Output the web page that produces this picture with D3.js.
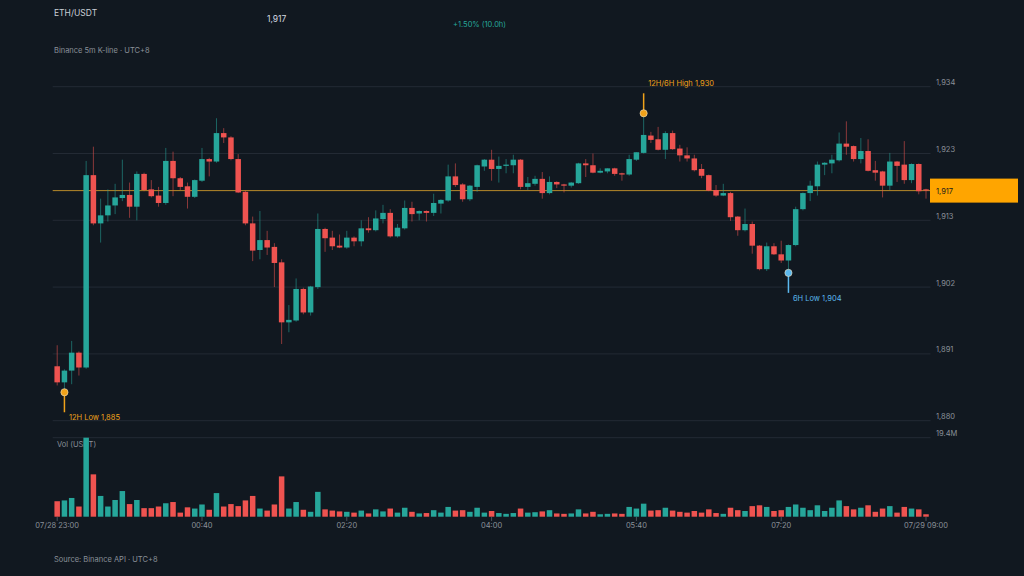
<!DOCTYPE html>
<html>
<head>
<meta charset="utf-8">
<script src="https://cdn.jsdelivr.net/npm/d3@7"></script>
<style>
  html, body { margin: 0; padding: 0; background: #111820; }
  svg { display: block; font-family: Inter, "Noto Sans", sans-serif; }
</style>
</head>
<body>
<svg id="chart" width="1024" height="576"></svg>
<script>
// 5m candles, 07/28 23:00 -> 07/29 09:00 (121 bars)
var opens = [1888.8,1886.2,1888.1,1891.0,1888.6,1919.7,1911.9,1913.2,1914.8,1916.0,
  1916.5,1914.6,1919.9,1917.4,1916.4,1915.2,1922.0,1919.2,1917.9,1916.2,
  1918.8,1922.3,1921.9,1926.5,1925.8,1922.3,1917.0,1911.9,1907.6,1909.2,
  1908.1,1905.6,1895.9,1896.2,1901.3,1897.5,1901.6,1911.0,1909.6,1908.3,
  1908.0,1909.6,1909.0,1911.1,1910.8,1912.6,1913.6,1909.8,1911.1,1914.4,
  1913.5,1913.9,1913.6,1915.1,1915.6,1919.5,1918.2,1915.8,1917.8,1921.1,
  1922.2,1920.7,1921.2,1921.3,1922.2,1917.8,1918.3,1919.1,1916.8,1918.6,
  1918.2,1918.0,1918.4,1921.6,1921.3,1920.1,1920.3,1920.8,1920.0,1919.8,
  1922.2,1923.3,1926.1,1925.5,1923.8,1926.5,1924.0,1922.9,1922.4,1920.7,
  1919.7,1917.3,1916.4,1916.8,1913.0,1910.8,1911.8,1908.3,1904.5,1908.2,
  1906.9,1905.9,1908.4,1914.2,1916.8,1917.9,1921.4,1921.6,1922.1,1924.8,
  1924.4,1922.3,1923.6,1920.5,1920.3,1918.0,1921.9,1921.4,1918.9,1921.5,
  1917.4];
var highs = [1892.2,1888.3,1892.9,1891.2,1922.0,1924.3,1915.9,1917.4,1918.3,1922.2,
  1918.5,1920.3,1920.1,1918.9,1917.8,1924.1,1923.5,1919.4,1918.5,1919.0,
  1924.1,1922.5,1928.9,1927.3,1926.0,1923.1,1917.2,1913.0,1913.9,1910.7,
  1908.7,1906.1,1898.7,1903.0,1901.5,1901.8,1913.5,1911.2,1910.7,1910.1,
  1910.7,1909.8,1912.4,1912.9,1914.0,1914.9,1914.2,1911.8,1915.6,1915.4,
  1914.0,1914.0,1916.7,1915.8,1921.4,1921.6,1918.4,1918.1,1921.4,1922.3,
  1923.8,1922.7,1922.3,1923.0,1922.3,1919.4,1919.6,1920.2,1919.5,1918.7,
  1918.3,1918.6,1921.7,1922.3,1923.2,1920.8,1920.8,1920.9,1920.1,1923.0,
  1923.4,1929.7,1926.7,1927.5,1926.8,1926.9,1924.6,1924.2,1923.0,1921.5,
  1919.8,1918.1,1918.3,1917.0,1913.1,1914.3,1912.2,1908.4,1908.8,1908.7,
  1909.1,1908.5,1914.6,1916.9,1918.8,1921.9,1921.8,1923.0,1926.6,1928.4,
  1924.5,1925.7,1925.5,1922.0,1920.4,1923.3,1922.0,1925.2,1921.6,1921.6,
  1917.5];
var lows = [1885.7,1884.6,1885.9,1887.3,1888.4,1911.6,1908.8,1912.2,1913.4,1915.5,
  1912.8,1912.4,1917.1,1916.1,1914.6,1914.9,1916.3,1917.3,1914.3,1916.0,
  1918.6,1919.5,1921.7,1924.9,1922.1,1916.8,1911.6,1905.8,1906.1,1906.8,
  1901.6,1892.4,1894.3,1896.0,1897.2,1897.0,1901.3,1907.3,1907.6,1907.9,
  1907.8,1908.2,1908.2,1910.4,1910.6,1911.9,1909.6,1909.6,1910.9,1912.2,
  1912.4,1912.2,1913.1,1913.5,1915.4,1917.8,1915.4,1915.5,1917.0,1920.4,
  1918.8,1918.5,1920.0,1920.0,1917.4,1917.3,1918.0,1915.9,1916.6,1917.6,
  1916.9,1917.7,1918.3,1919.4,1920.0,1920.0,1920.0,1919.6,1918.8,1919.6,
  1922.0,1923.2,1924.9,1923.7,1922.3,1923.8,1921.9,1921.9,1920.3,1919.2,
  1917.1,1916.2,1916.3,1912.3,1909.9,1910.6,1907.0,1904.3,1904.2,1906.8,
  1905.5,1903.9,1908.2,1914.0,1915.5,1916.4,1919.7,1920.0,1921.9,1923.0,
  1921.9,1921.6,1920.3,1918.8,1916.1,1917.3,1918.6,1918.3,1918.4,1916.6,
  1915.9];
var closes = [1886.2,1888.1,1891.0,1888.6,1919.7,1911.9,1913.2,1914.8,1916.1,1916.5,
  1914.6,1919.9,1917.3,1916.3,1915.2,1922.0,1919.2,1917.8,1916.2,1918.9,
  1922.3,1921.9,1926.5,1925.8,1922.3,1916.9,1911.9,1907.5,1909.2,1908.0,
  1905.5,1895.9,1896.3,1901.3,1897.5,1901.7,1911.0,1909.5,1908.2,1908.0,
  1909.6,1909.0,1911.1,1910.8,1912.7,1913.6,1909.8,1911.2,1914.4,1913.4,
  1913.9,1913.6,1915.2,1915.7,1919.5,1918.1,1915.8,1918.0,1921.3,1922.2,
  1920.7,1921.2,1921.4,1922.2,1917.8,1918.4,1919.1,1916.8,1918.6,1918.2,
  1918.0,1918.5,1921.6,1921.3,1920.1,1920.4,1920.8,1919.9,1919.8,1922.3,
  1923.4,1926.2,1925.4,1923.8,1926.5,1923.9,1922.9,1922.4,1920.5,1919.6,
  1917.2,1916.4,1916.8,1912.9,1910.8,1911.8,1908.3,1904.5,1908.2,1906.9,
  1905.9,1908.4,1914.2,1916.8,1918.0,1921.4,1921.7,1922.2,1924.8,1924.3,
  1922.3,1923.6,1920.4,1920.1,1918.0,1921.9,1921.2,1918.9,1921.5,1917.1,
  1917.2];
// volume in million USDT
var volumes = [3.8,4.0,4.6,2.5,19.4,10.4,5.1,2.5,4.1,6.3,
  3.1,4.1,2.1,2.1,2.5,3.3,3.6,1.0,2.3,2.0,
  3.0,1.7,5.8,2.5,3.1,2.6,4.0,5.1,2.0,1.5,
  3.0,9.9,2.0,3.6,1.7,1.2,6.1,1.8,1.5,1.3,
  1.2,1.0,1.5,0.8,1.8,1.3,2.0,1.0,2.2,1.2,
  0.8,0.9,1.6,1.0,2.4,1.5,1.6,1.2,2.2,1.0,
  1.4,0.9,0.7,0.9,2.0,1.0,1.1,1.3,1.6,0.8,
  0.7,0.8,1.8,0.8,1.2,0.6,0.7,0.8,0.7,2.4,
  2.0,3.2,1.5,1.6,2.2,1.5,1.2,1.0,1.4,1.0,
  1.8,0.9,0.7,2.2,1.6,1.4,2.6,2.8,2.4,1.4,
  1.6,2.4,3.0,2.2,1.6,2.8,1.4,2.2,4.0,2.6,
  1.8,2.2,2.8,1.2,2.0,2.6,1.0,2.4,2.0,1.8,
  0.6];
var priceTicks = [1880, 1890.8, 1901.6, 1912.4, 1923.2, 1934];
var priceTickLabels = ["1,880", "1,891", "1,902", "1,913", "1,923", "1,934"];
var timeTickIdx = [0, 20, 40, 60, 80, 100, 120];
var timeTickLabels = ["07/28 23:00", "00:40", "02:20", "04:00", "05:40", "07:20", "07/29 09:00"];

var green = "#26a69a", red = "#ef5350";
var gridColor = "#232a34", textGray = "#8a9099";
var left = 52.7, right = 930.5;

var data = opens.map(function (o, i) {
    return {i: i, o: o, h: highs[i], l: lows[i], c: closes[i], v: volumes[i]};
});

var svg = d3.select("#chart");
svg.append("rect").attr("width", 1024).attr("height", 576).attr("fill", "#111820");

var x = d3.scaleBand().domain(d3.range(data.length)).range([left, right]).padding(0.24);
var xc = function (i) { return x(i) + x.bandwidth() / 2; };
var y = d3.scaleLinear().domain([1880, 1934]).range([420.7, 86.7]);
var vMax = d3.max(volumes);
var yv = d3.scaleLinear().domain([0, vMax]).range([516.7, 437.7]);
var col = function (d) { return d.c >= d.o ? green : red; };

// header
svg.append("text").attr("x", 54).attr("y", 16).attr("font-size", 8.5).attr("fill", "#c9ced6").text("ETH/USDT");
var last = data[data.length - 1];
var fmt = d3.format(",.0f");
svg.append("text").attr("x", 267).attr("y", 22).attr("font-size", 8.5).attr("fill", "#d5d9e0").text(fmt(last.c));
var pct = (last.c - data[0].o) / data[0].o * 100;
svg.append("text").attr("x", 453).attr("y", 27).attr("font-size", 7.5).attr("fill", green)
    .text((pct >= 0 ? "+" : "") + pct.toFixed(2) + "% (10.0h)");
svg.append("text").attr("x", 54).attr("y", 53).attr("font-size", 7.5).attr("fill", textGray).text("Binance 5m K-line · UTC+8");
svg.append("text").attr("x", 54).attr("y", 562).attr("font-size", 7.5).attr("fill", textGray).text("Source: Binance API · UTC+8");

// price grid + labels
svg.append("g").selectAll("line").data(priceTicks).enter().append("line")
    .attr("x1", left).attr("x2", right)
    .attr("y1", function (d) { return y(d); }).attr("y2", function (d) { return y(d); })
    .attr("stroke", gridColor).attr("stroke-width", 1);
svg.append("g").selectAll("text").data(priceTicks).enter().append("text")
    .attr("x", 936).attr("y", function (d) { return y(d) - 1.5; })
    .attr("font-size", 7.5).attr("fill", textGray)
    .text(function (d, i) { return priceTickLabels[i]; });

// volume panel top line + max label
svg.append("line").attr("x1", left).attr("x2", right).attr("y1", yv(vMax)).attr("y2", yv(vMax))
    .attr("stroke", gridColor);
svg.append("text").attr("x", 936).attr("y", yv(vMax) - 2).attr("font-size", 7.5).attr("fill", textGray)
    .text(vMax.toFixed(1) + "M");
svg.append("text").attr("x", 57).attr("y", 447).attr("font-size", 7.5).attr("fill", textGray).text("Vol (USDT)");

// current price line
svg.append("line").attr("x1", left).attr("x2", right).attr("y1", y(last.c)).attr("y2", y(last.c))
    .attr("stroke", "#b8892a").attr("stroke-width", 1);

// candles
var cg = svg.append("g");
cg.selectAll("line.wick").data(data).enter().append("line").attr("class", "wick")
    .attr("x1", function (d) { return xc(d.i); }).attr("x2", function (d) { return xc(d.i); })
    .attr("y1", function (d) { return y(d.h); }).attr("y2", function (d) { return y(d.l); })
    .attr("stroke", col).attr("stroke-opacity", 0.55).attr("stroke-width", 1);
cg.selectAll("rect.body").data(data).enter().append("rect").attr("class", "body")
    .attr("x", function (d) { return x(d.i); })
    .attr("width", x.bandwidth())
    .attr("y", function (d) { return y(Math.max(d.o, d.c)); })
    .attr("height", function (d) { return Math.max(1.2, Math.abs(y(d.o) - y(d.c))); })
    .attr("fill", col);

// volume bars
svg.append("g").selectAll("rect").data(data).enter().append("rect")
    .attr("x", function (d) { return x(d.i); })
    .attr("width", x.bandwidth())
    .attr("y", function (d) { return yv(d.v); })
    .attr("height", function (d) { return yv(0) - yv(d.v); })
    .attr("fill", col);

// x axis
var xt = svg.append("g");
xt.selectAll("line").data(timeTickIdx).enter().append("line")
    .attr("x1", function (d) { return xc(d); }).attr("x2", function (d) { return xc(d); })
    .attr("y1", 517).attr("y2", 521).attr("stroke", "#4a515b");
xt.selectAll("text").data(timeTickIdx).enter().append("text")
    .attr("x", function (d) { return xc(d); }).attr("y", 528)
    .attr("text-anchor", "middle").attr("font-size", 7.5).attr("fill", textGray)
    .text(function (d, i) { return timeTickLabels[i]; });

// last price tag
svg.append("rect").attr("x", 930).attr("y", y(last.c) - 12).attr("width", 88).attr("height", 24)
    .attr("fill", "#ffa500");
svg.append("text").attr("x", 936).attr("y", y(last.c) + 3).attr("font-size", 7.5).attr("fill", "#1a1a1a")
    .text(fmt(last.c));

// high / low markers
var hiIdx = d3.maxIndex(highs);
var lo12 = d3.minIndex(lows);
var lo6 = 48 + d3.minIndex(lows.slice(48));
function marker(i, val, up, color, label) {
    var cx = xc(i), cy = y(val);
    var end = up ? cy - 20 : cy + 20;
    svg.append("line").attr("x1", cx).attr("x2", cx).attr("y1", cy).attr("y2", end)
        .attr("stroke", color).attr("stroke-width", 1.5);
    svg.append("circle").attr("cx", cx).attr("cy", cy).attr("r", 3.6)
        .attr("fill", color).attr("stroke", "#f3e3c0").attr("stroke-width", 0.6);
    svg.append("text").attr("x", cx + 4.5).attr("y", up ? end - 7 : end + 8)
        .attr("font-size", 7.5).attr("fill", color).text(label + " " + fmt(val));
}
marker(hiIdx, highs[hiIdx], true, "#f0a21a", "12H/6H High");
marker(lo12, lows[lo12], false, "#f0a21a", "12H Low");
marker(lo6, lows[lo6], false, "#5bb8ee", "6H Low");
</script>
</body>
</html>
